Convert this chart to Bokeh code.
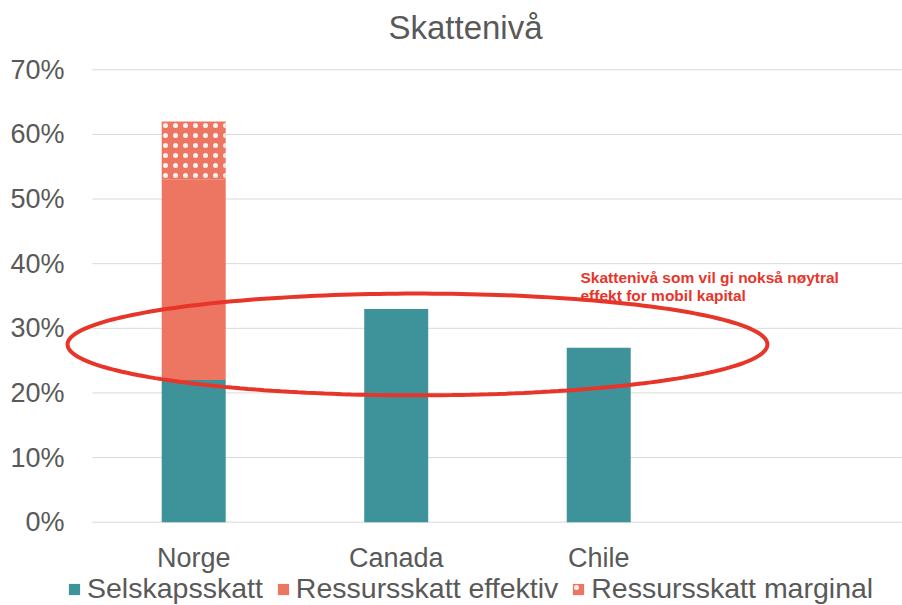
import numpy as np
from bokeh.plotting import figure
from bokeh.models import (Range1d, FixedTicker, PrintfTickFormatter, Legend,
                          LegendItem, Label, PolyAnnotation)
from bokeh.core.properties import value
from bokeh.embed import file_html
from bokeh.resources import INLINE

# Data (percent)
countries = ["Norge", "Canada", "Chile"]
selskapsskatt = [22, 33, 27]
ressursskatt_effektiv = [31, 0, 0]
ressursskatt_marginal = [9, 0, 0]
series_names = ["Selskapsskatt", "Ressursskatt effektiv", "Ressursskatt marginal"]
y_ticks = [0, 10, 20, 30, 40, 50, 60, 70]

TEAL = "#3E939B"
SALMON = "#EC7662"
RED = "#E8352A"
GREY = "#595959"
GRID = "#D9D9D9"
FONT = "Liberation Sans"

W, H = 902, 605
n_slots = len(countries) + 1          # one empty slot on the right
x = [i + 0.5 for i in range(len(countries))]

# The plotting frame covers the whole canvas height so that the title,
# category labels, ellipse and legend are all drawn inside it.
y_top, y_bottom = 80.72, -12.89
x_left = -0.138

p = figure(width=W, height=H, output_backend="svg", toolbar_location=None,
           title=None,
           x_range=Range1d(x_left, n_slots), y_range=Range1d(y_bottom, y_top),
           min_border_left=64, min_border_right=0, min_border_top=0,
           min_border_bottom=0)
p.outline_line_color = None
p.background_fill_color = "white"
p.border_fill_color = "white"
p.xaxis.visible = False
p.xgrid.grid_line_color = None
p.ygrid.grid_line_color = None

# Horizontal gridlines over the category slots
p.segment(x0=[0] * len(y_ticks), x1=[n_slots] * len(y_ticks), y0=y_ticks, y1=y_ticks,
          line_color=GRID, line_width=1)

# Stacked bars
b0 = [0] * len(countries)
t0 = selskapsskatt
t1 = [a + b for a, b in zip(t0, ressursskatt_effektiv)]
t2 = [a + b for a, b in zip(t1, ressursskatt_marginal)]
bw = 0.316

r_sel = p.vbar(x=x, bottom=b0, top=t0, width=bw, fill_color=TEAL, line_color=None)
r_eff = p.vbar(x=x, bottom=t0, top=t1, width=bw, fill_color=SALMON, line_color=None)
r_mar = p.vbar(x=x, bottom=t1, top=t2, width=bw, fill_color=SALMON, line_color=None,
               hatch_pattern="dot", hatch_color="white", hatch_scale=10,
               hatch_weight=2.5, hatch_alpha=0.9)

# Category labels under the bars
p.text(x=x, y=[-5.6] * len(countries), text=countries, text_align="center",
       text_baseline="alphabetic", text_font=value(FONT), text_font_size="27px",
       text_color=GREY)

# Percent axis
p.yaxis.ticker = FixedTicker(ticks=y_ticks)
p.yaxis.formatter = PrintfTickFormatter(format="%d%%")
p.yaxis.major_label_text_font = FONT
p.yaxis.major_label_text_font_size = "27px"
p.yaxis.major_label_text_color = GREY
p.yaxis.major_label_standoff = 0
p.yaxis.major_tick_out = 0
p.yaxis.major_tick_in = 0
p.yaxis.axis_line_color = None
p.yaxis.major_tick_line_color = None
p.yaxis.minor_tick_line_color = None

# Chart title
p.add_layout(Label(x=1.842, y=76.5, text="Skattenivå", text_align="center",
                   text_baseline="alphabetic", text_font=FONT, text_font_size="33px",
                   text_color=GREY))

# Highlight ellipse around the neutral tax level
t = np.linspace(0, 2 * np.pi, 240)
cx, cy, ax_, ay_ = 1.605, 27.5, 1.728, 7.87
ell = PolyAnnotation(xs=list(cx + ax_ * np.cos(t)), ys=list(cy + ay_ * np.sin(t)),
                     fill_alpha=0, line_color=RED, line_alpha=1, line_width=4)
p.add_layout(ell)

for txt, yy in [("Skattenivå som vil gi nokså nøytral", 36.6),
                ("effekt for mobil kapital", 33.8)]:
    p.add_layout(Label(x=2.41, y=yy, text=txt, text_font=FONT, text_font_size="15.5px",
                       text_font_style="bold", text_color=RED))

legend = Legend(items=[LegendItem(label=series_names[0], renderers=[r_sel]),
                       LegendItem(label=series_names[1], renderers=[r_eff]),
                       LegendItem(label=series_names[2], renderers=[r_mar])],
                orientation="horizontal", location=(3, 0),
                label_text_font=FONT, label_text_font_size="28.5px",
                label_text_color=GREY, glyph_width=14, glyph_height=14,
                label_standoff=6, spacing=13, padding=0, margin=0,
                border_line_color=None, background_fill_alpha=0)
p.add_layout(legend)

open("out.html", "w").write(file_html(p, INLINE))
